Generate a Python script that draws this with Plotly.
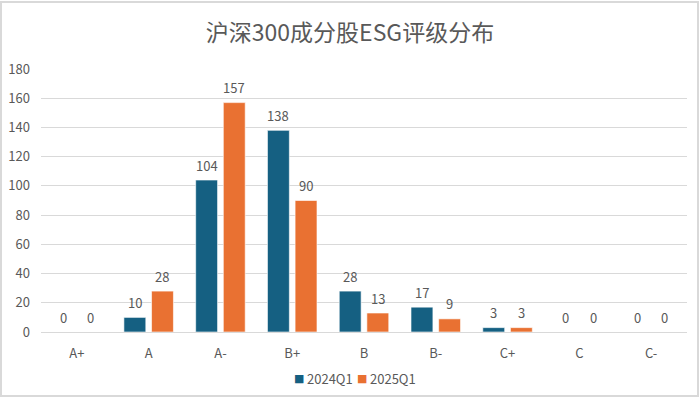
import plotly.graph_objects as go

categories = ["A+", "A", "A-", "B+", "B", "B-", "C+", "C", "C-"]
s2024 = [0, 10, 104, 138, 28, 17, 3, 0, 0]
s2025 = [0, 28, 157, 90, 13, 9, 3, 0, 0]
y_ticks = [0, 20, 40, 60, 80, 100, 120, 140, 160, 180]

W, H = 700, 398
L, R, T, B = 41, 13, 69, 66
pw, ph = W - L - R, H - T - B
cat_px = pw / len(categories)

font_fam = "Noto Sans CJK SC, Noto Sans, sans-serif"
grey = "#595959"

bar_w = 0.305
gap = 0.08
series = [("2024Q1", s2024, "#156082", -(bar_w + gap / 2)),
          ("2025Q1", s2025, "#E97132", gap / 2)]

fig = go.Figure()
for name, vals, col, off in series:
    fig.add_trace(go.Bar(name=name, x=categories, y=vals, marker_color=col,
                         marker_line=dict(color="rgba(255,255,255,0.6)", width=1),
                         width=bar_w, offset=off, showlegend=False))
    center_px = (off + bar_w / 2) * cat_px
    for c, v in zip(categories, vals):
        fig.add_annotation(x=c, y=v, text=str(v), showarrow=False,
                           xshift=center_px, yshift=15, yanchor="middle",
                           font=dict(size=13, color=grey, family=font_fam))

# legend drawn as annotations (small squares, tight spacing like the reference)
legend_y = -(378 - (T + ph)) / ph
legend_x_px = [299, 362]
for (name, vals, col, off), xp in zip(series, legend_x_px):
    fig.add_annotation(xref="paper", yref="paper", x=(xp - L) / pw, y=legend_y,
                       text="■", showarrow=False, xanchor="center", yanchor="middle",
                       font=dict(size=11, color=col, family="DejaVu Sans"))
    fig.add_annotation(xref="paper", yref="paper", x=(xp + 6 - L) / pw, y=legend_y,
                       text=name, showarrow=False, xanchor="left", yanchor="middle",
                       font=dict(size=13, color=grey, family=font_fam))

fig.update_layout(
    width=W, height=H,
    margin=dict(l=L, r=R, t=T, b=B, autoexpand=False),
    paper_bgcolor="white", plot_bgcolor="white",
    barmode="group", showlegend=False,
    font=dict(family=font_fam, color=grey, size=13),
    title=dict(text="沪深300成分股ESG评级分布", x=0.5, xanchor="center",
               y=1 - 33 / H, yanchor="middle",
               font=dict(size=23, color=grey, family=font_fam)),
    xaxis=dict(showline=True, linecolor="#d9d9d9", linewidth=1, ticks="",
               automargin=False, ticklabelstandoff=9,
               tickfont=dict(size=13, color=grey)),
    yaxis=dict(range=[0, 180], tickvals=y_ticks, showgrid=True, gridcolor="#d9d9d9",
               gridwidth=1, zeroline=False, showline=False, ticks="",
               automargin=False, ticklabelstandoff=10,
               tickfont=dict(size=13, color=grey)),
)

fig.add_shape(type="rect", xref="paper", yref="paper",
              x0=-(L - 1) / pw, x1=1 + (R - 2) / pw,
              y0=-(B - 2) / ph, y1=1 + (T - 2) / ph,
              line=dict(color="#d9d9d9", width=2), layer="below")

fig.write_html("out.html", post_script="document.body.style.margin='0';",
               config={"displayModeBar": False})
